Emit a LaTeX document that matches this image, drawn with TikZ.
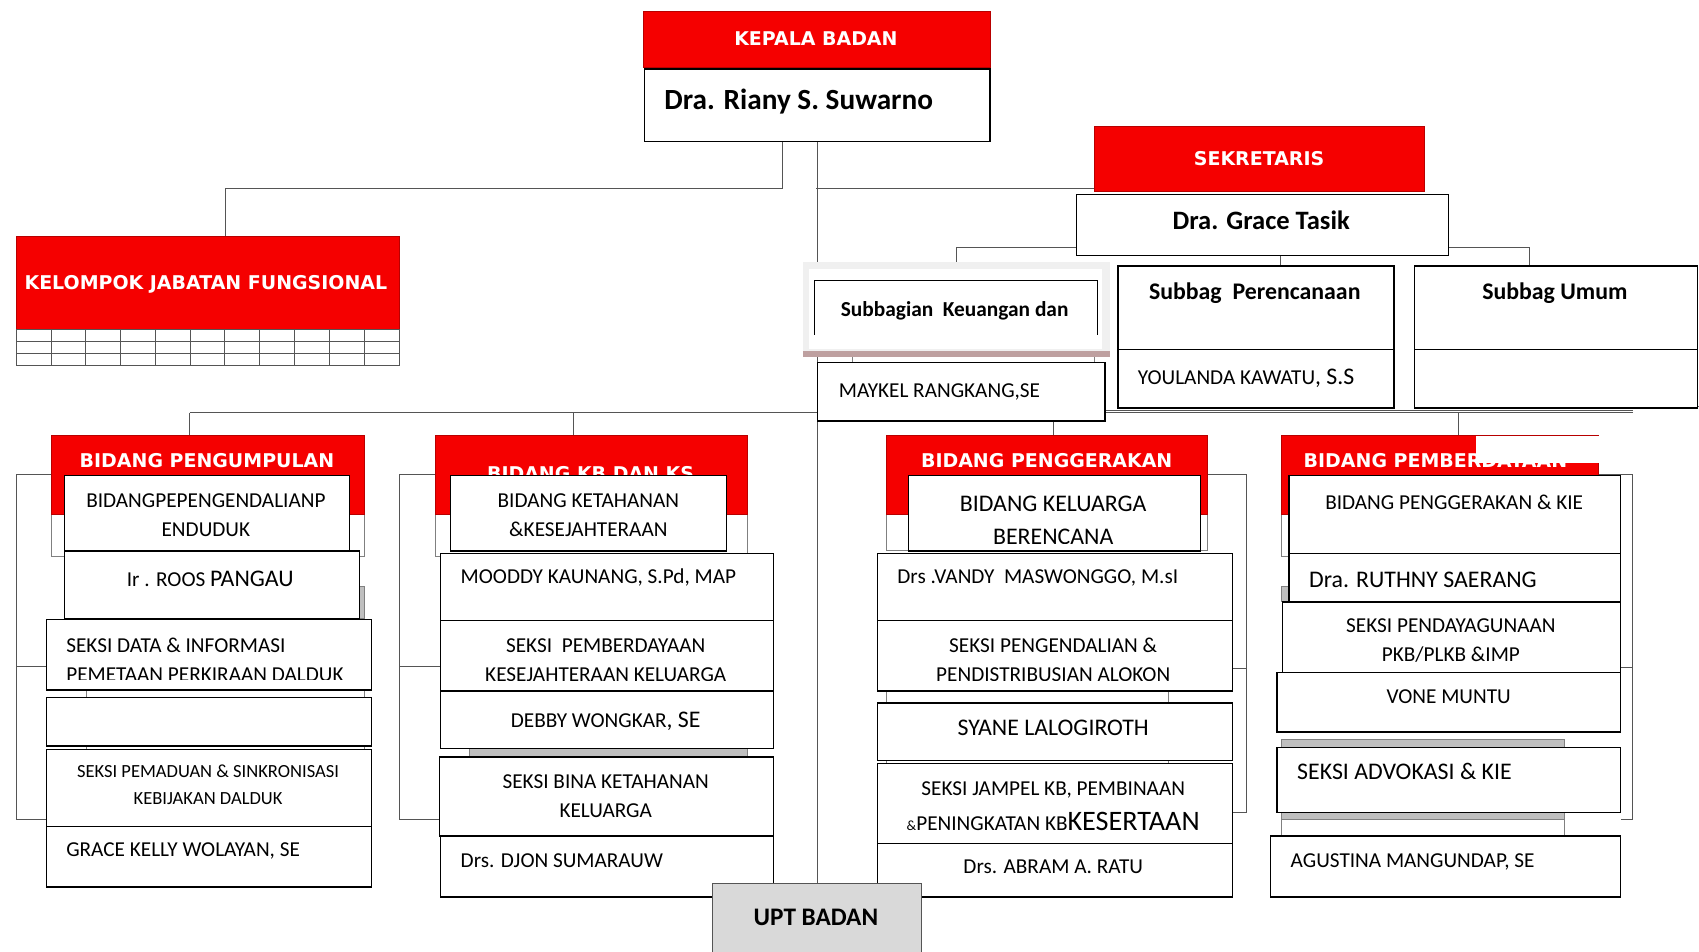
\documentclass[tikz,border=0pt]{standalone}
\usepackage{fontspec}
\setmainfont{Carlito}
\newfontfamily\headfont{DejaVu Sans}
\usetikzlibrary{backgrounds}
\definecolor{hdred}{RGB}{245,0,0}
\definecolor{linkgray}{RGB}{85,85,85}
\definecolor{uptgray}{RGB}{217,217,217}
\definecolor{rosy}{RGB}{190,160,160}

\begin{document}
\begin{tikzpicture}[x=1pt,y=-1pt,
    cell/.style 2 args={draw=black, line width=1.3pt, fill=white, anchor=north west, inner sep=0pt, minimum width=#1, minimum height=#2},
    redbox/.style 2 args={draw=hdred!75!black, line width=0.6pt, fill=hdred, anchor=north west, inner sep=0pt, minimum width=#1, minimum height=#2},
    backbox/.style 2 args={draw=gray, line width=0.8pt, fill=white, anchor=north west, inner sep=0pt, minimum width=#1, minimum height=#2},
    greybar/.style 2 args={draw=gray, line width=0.6pt, fill=gray!50, anchor=north west, inner sep=0pt, minimum width=#1, minimum height=#2},
    link/.style={draw=linkgray, line width=0.9pt},
    head/.style={font=\headfont\bfseries\fontsize{17.5}{20}\selectfont, text=white, inner sep=0pt, text height=12.8pt, text depth=0pt},
    txt/.style={font=\fontsize{19.6}{24}\selectfont, inner sep=0pt, text height=12.6pt, text depth=0pt},
    bigtxt/.style={font=\fontsize{22}{27}\selectfont, inner sep=0pt, text height=14.2pt, text depth=0pt},
    boldtxt/.style={font=\bfseries\fontsize{22}{27}\selectfont, inner sep=0pt, text height=14.2pt, text depth=0pt},
    twoline/.style={font=\fontsize{19.6}{27}\selectfont, inner sep=0pt, align=center},
  ]
  \useasboundingbox (0,0) rectangle (1568,878);

  % kepala badan
  \node[redbox={321}{52}] (kepala) at (593,10) {};
  \node[head] (kepalatxt) at (753,36) {KEPALA BADAN};
  \node[cell={319}{67}] (kepalaname) at (594,63) {};
  \node[font=\bfseries\fontsize{27}{32}\selectfont, inner sep=0pt, text height=17.4pt, text depth=0pt, anchor=west] (kepalanm) at (613,92) {Dra. Riany S. Suwarno};

  % kelompok jabatan fungsional
  \node[redbox={353}{86}] (kelompok) at (15,218) {};
  \node[head] (kelompoktxt) at (190,261) {KELOMPOK JABATAN FUNGSIONAL};
  \node[anchor=north west, draw=linkgray, line width=0.8pt, minimum width=353, minimum height=33, inner sep=0pt] (kelgrid) at (15,304) {};
  \foreach \c in {1,...,10}
    \draw[link, line width=0.8pt] ([xshift=\c*32.09pt]kelgrid.north west) -- ([xshift=\c*32.09pt]kelgrid.south west);
  \foreach \r in {1,2}
    \draw[link, line width=0.8pt] ([yshift=-\r*11pt]kelgrid.north west) -- ([yshift=-\r*11pt]kelgrid.north east);

  % sekretaris
  \node[redbox={304}{60}] (sekretaris) at (1010,116) {};
  \node[head] (sekretaristxt) at (1162,146) {SEKRETARIS};
  \node[cell={343}{56}] (grace) at (993,179) {};
  \node[font=\bfseries\fontsize{24.5}{29}\selectfont, inner sep=0pt, text height=15.8pt, text depth=0pt] (gracetxt) at (1164,204) {Dra. Grace Tasik};

  % subbagian keuangan
  \node[backbox={224}{30}] (keuback) at (786,320) {};
  \node[fill=gray!12, anchor=north west, inner sep=0pt, minimum width=283, minimum height=87] (keuframe) at (741,242) {};
  \node[fill=rosy, anchor=north west, inner sep=0pt, minimum width=283, minimum height=5] (keushadow) at (741,324) {};
  \node[fill=white, anchor=north west, inner sep=0pt, minimum width=271, minimum height=74] (keuin) at (746,248) {};
  \begin{scope}
    \clip (740,250) rectangle (1030,309);
    \node[cell={261}{70}] (keuangan) at (751,258) {};
  \end{scope}
  \node[font=\bfseries\fontsize{19.7}{24}\selectfont, inner sep=0pt, text height=12.7pt, text depth=0pt] (keutxt) at (881,286) {Subbagian\ \ Keuangan dan};
  \node[cell={265}{54}] (maykel) at (754,334) {};
  \node[txt, anchor=west] (maykeltxt) at (774,361) {MAYKEL RANGKANG,SE};

  % subbag perencanaan, subbag umum
  \node[cell={255}{77}] (perenc) at (1031,245) {};
  \node[boldtxt] (perenctxt) at (1158,269) {Subbag\ \ Perencanaan};
  \node[cell={255}{54}] (perenc2) at (1031,322) {};
  \node[txt, anchor=west] (perenc2txt) at (1050,349) {YOULANDA KAWATU{\fontsize{22}{24}\selectfont, S.S}};
  \node[cell={261}{77}] (umum) at (1305,245) {};
  \node[boldtxt] (umumtxt) at (1435,269) {Subbag Umum};
  \node[cell={261}{54}] (umum2) at (1305,322) {};

  % bidang pengumpulan
  \node[backbox={289}{112}] (h1frame) at (47,401) {};
  \node[redbox={289}{73}] (h1red) at (47,401) {};
  \node[head] (h1txt) at (191,425) {BIDANG PENGUMPULAN};
  \node[cell={263}{70}] (s1a) at (59,438) {};
  \node[twoline] (t1a) at (190,475.5) {BIDANGPEPENGENDALIANP\\ENDUDUK};
  \node[greybar={5}{29}] (s1shade) at (331,541) {};
  \node[cell={272}{62}] (s1b) at (59,508) {};
  \node[txt] (t1b) at (194,535) {Ir . ROOS {\fontsize{22}{24}\selectfont PANGAU}};
  \node[backbox={257}{72}] (s1back) at (79,620) {};
  \node[cell={300}{65}] (s1c) at (42,571) {};
  \begin{scope}
    \clip (s1c.north west) rectangle ([yshift=10pt]s1c.south east);
    \node[twoline, align=left, anchor=west] (t1c) at (61,609) {SEKSI DATA \& INFORMASI\\PEMETAAN PERKIRAAN DALDUK};
  \end{scope}
  \node[cell={300}{45}] (s1d) at (42,643) {};
  \node[cell={300}{71}] (s1e) at (42,691) {};
  \node[twoline, font=\fontsize{17.1}{25}\selectfont] (t1e) at (192,724.5) {SEKSI PEMADUAN \& SINKRONISASI\\KEBIJAKAN DALDUK};
  \node[cell={300}{56}] (s1f) at (42,762) {};
  \node[txt, anchor=west] (t1f) at (61,784) {GRACE KELLY WOLAYAN, SE};

  % bidang kb dan ks
  \node[backbox={288}{112}] (h2frame) at (401,401) {};
  \node[redbox={288}{73}] (h2red) at (401,401) {};
  \node[head] (h2txt) at (545,437) {BIDANG KB DAN KS};
  \node[cell={255}{70}] (s2a) at (415,438) {};
  \node[twoline] (t2a) at (543,475.5) {BIDANG KETAHANAN\\\&KESEJAHTERAAN};
  \node[cell={307}{62}] (s2b) at (406,510) {};
  \node[txt, anchor=west] (t2b) at (425,532) {MOODDY KAUNANG, S.Pd, MAP};
  \node[cell={307}{65}] (s2c) at (406,572) {};
  \begin{scope}
    \clip (s2c.north west) rectangle ([yshift=10.5pt]s2c.south east);
    \node[twoline] (t2c) at (559,609) {SEKSI\ \ PEMBERDAYAAN\\KESEJAHTERAAN KELUARGA};
  \end{scope}
  \node[greybar={256}{12}] (s2bar) at (433,686) {};
  \node[cell={307}{53}] (s2d) at (406,637) {};
  \node[txt] (t2d) at (559,665) {DEBBY WONGKAR{\fontsize{22}{24}\selectfont, SE}};
  \node[cell={308}{73}] (s2e) at (405,698) {};
  \node[twoline] (t2e) at (559,734.5) {SEKSI BINA KETAHANAN\\KELUARGA};
  \node[cell={307}{56}] (s2f) at (406,771) {};
  \node[txt, anchor=west] (t2f) at (425,794) {Drs. DJON SUMARAUW};

  % bidang penggerakan
  \node[backbox={296}{107}] (h3frame) at (818,401) {};
  \node[redbox={296}{73}] (h3red) at (818,401) {};
  \node[head] (h3txt) at (966,425) {BIDANG PENGGERAKAN};
  \node[cell={269}{70}] (s3a) at (838,438) {};
  \begin{scope}
    \clip (s3a.north west) rectangle ([yshift=8pt]s3a.south east);
    \node[twoline, font=\fontsize{22}{30}\selectfont] (t3a) at (972,480) {BIDANG KELUARGA\\BERENCANA};
  \end{scope}
  \node[cell={328}{62}] (s3b) at (809,510) {};
  \node[txt, anchor=west] (t3b) at (828,532) {Drs .VANDY\ \ MASWONGGO, M.sI};
  \node[backbox={260}{80}] (s3back) at (818,625) {};
  \node[cell={328}{65}] (s3c) at (809,572) {};
  \begin{scope}
    \clip (s3c.north west) rectangle ([yshift=10.5pt]s3c.south east);
    \node[twoline] (t3c) at (972,609) {SEKSI PENGENDALIAN \&\\PENDISTRIBUSIAN ALOKON};
  \end{scope}
  \node[cell={328}{53}] (s3d) at (809,648) {};
  \node[bigtxt] (t3d) at (972,672) {SYANE LALOGIROTH};
  \node[cell={328}{74}] (s3e) at (809,704) {};
  \node[twoline, font=\fontsize{19.6}{33}\selectfont] (t3e) at (972,744) {SEKSI JAMPEL KB, PEMBINAAN\\{\fontsize{13}{13}\selectfont\&}PENINGKATAN KB{\fontsize{26}{27}\selectfont KESERTAAN}};
  \node[cell={328}{49}] (s3f) at (809,778) {};
  \node[txt] (t3f) at (972,800) {Drs. ABRAM A. RATU};

  % bidang pemberdayaan
  \node[backbox={293}{112}] (h4frame) at (1182,401) {};
  \node[redbox={293}{73}] (h4red) at (1182,401) {};
  \node[head, anchor=west] (h4txt) at (1203,425) {BIDANG PEMBERDAYAAN};
  \node[fill=white, anchor=north west, inner sep=0pt, minimum width=114, minimum height=25] (h4patch) at (1362,402.5) {};
  \node[cell={306}{72}] (s4a) at (1189,438) {};
  \node[txt] (t4a) at (1342,464) {BIDANG PENGGERAKAN \& KIE};
  \node[greybar={7}{14}] (s4shade) at (1182,541) {};
  \node[cell={306}{45}] (s4b) at (1189,510) {};
  \node[bigtxt, anchor=west] (t4b) at (1208,535) {Dra. RUTHNY SAERANG};
  \node[cell={312}{65}] (s4c) at (1183,555) {};
  \node[twoline] (t4c) at (1339,591) {SEKSI PENDAYAGUNAAN\\PKB/PLKB \&IMP};
  \node[cell={317}{55}] (s4d) at (1178,620) {};
  \node[txt] (t4d) at (1337,643) {VONE MUNTU};
  \node[backbox={261}{30}] (s4back) at (1182,750) {};
  \node[greybar={261}{74}] (s4bar) at (1182,682) {};
  \node[cell={317}{60}] (s4e) at (1178,689) {};
  \node[bigtxt, anchor=west] (t4e) at (1197,712) {SEKSI ADVOKASI \& KIE};
  \node[cell={323}{56}] (s4f) at (1172,771) {};
  \node[txt, anchor=west] (t4f) at (1191,794) {AGUSTINA MANGUNDAP, SE};

  % upt badan
  \node[draw=linkgray, line width=1pt, fill=uptgray, anchor=north west, inner sep=0pt, minimum width=193, minimum height=75] (upt) at (657,815) {};
  \node[font=\bfseries\fontsize{23.3}{28}\selectfont, inner sep=0pt, text height=15pt, text depth=0pt] (upttxt) at (753,847) {UPT BADAN};

  % connectors
  \begin{scope}[on background layer]
    \coordinate (kjoint) at (722,174);
    \coordinate (sjoint) at (753.5,174);
    \coordinate (busL) at (175,381);
    \coordinate (busR) at (1507,381);
    \coordinate (edgeR) at (1568,375);
    \draw[link] (kepalaname.south -| kjoint) -- (kjoint) -| ([xshift=16pt]kelompok.north);
    \draw[link] (kepalaname.south -| upt.north) -- (upt.north);
    \draw[link] (sjoint) -- (sjoint -| sekretaris.west);
    \draw[link] ([yshift=8pt]grace.south west) -| (keuframe.north);
    \draw[link] ([yshift=8pt]grace.south east) -| ([xshift=-25pt]umum.north);
    \draw[link] (grace.south -| 1182,0) -- (perenc.north -| 1182,0);
    \draw[link] (busL) -- (busR);
    \draw[link] (maykel.east |- 0,378.5) -- (busR |- 0,378.5);
    \draw[link] (busR |- edgeR) -- (edgeR);
    \draw[link] (busL) -- (busL |- h1red.north);
    \draw[link] (busL -| 529,0) -- (h2red.north -| 529,0);
    \draw[link] (busL -| 972,0) -- (h3red.north -| 972,0);
    \draw[link] (busL -| 1346,0) -- (h4red.north -| 1346,0);
    % side brackets
    \draw[link] (h1red.west) -| (15,756) -- (s1e.west |- 0,756);
    \draw[link] (15,615) -- (s1c.west |- 0,615);
    \draw[link] (h2red.west) -| (369,756) -- (s2e.west |- 0,756);
    \draw[link] (369,615) -- (s2c.west |- 0,615);
    \draw[link] (h3red.east) -| (1150,750) -- (s3e.east |- 0,750);
    \draw[link] (1150,617) -- (s3c.east |- 0,617);
    \draw[link] (h4red.east) -| (1507,756) -- (s4e.east |- 0,756);
    \draw[link] (1507,616) -- (s4c.east |- 0,616);
  \end{scope}
\end{tikzpicture}
\end{document}
